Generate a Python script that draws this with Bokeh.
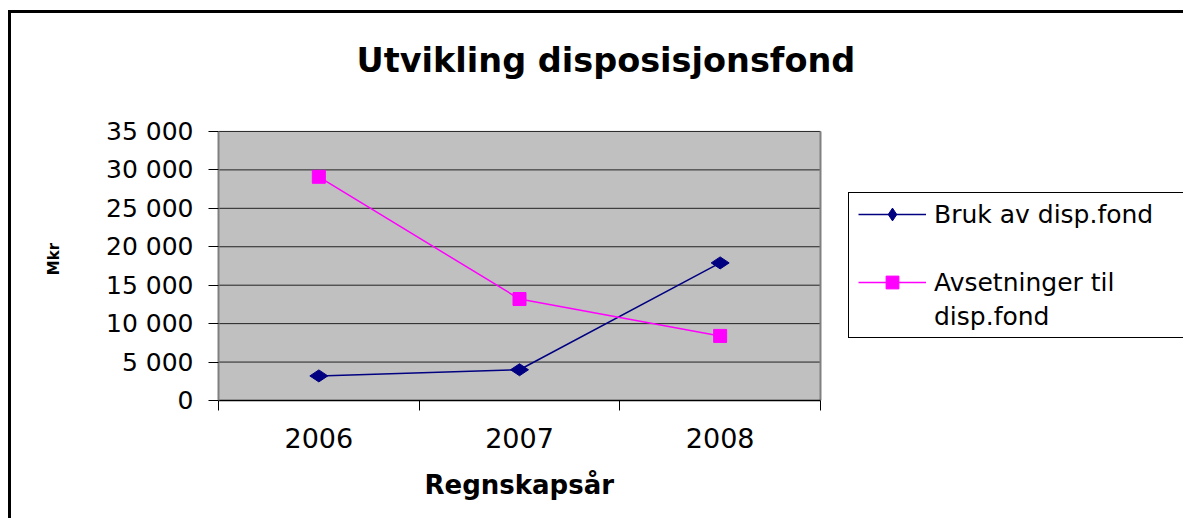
from bokeh.plotting import figure
from bokeh.models import FixedTicker, Range1d, Legend, LegendItem, Title
from bokeh.embed import file_html
from bokeh.resources import INLINE
import math

# ---- data ----
years = ["2006", "2007", "2008"]
bruk = [3200, 4000, 17900]
avsetninger = [29100, 13200, 8400]
y_ticks = [0, 5000, 10000, 15000, 20000, 25000, 30000, 35000]
title_text = "Utvikling disposisjonsfond"
y_label = "Mkr"
x_label = "Regnskapsår"
series_labels = ["Bruk av disp.fond", "Avsetninger til", "disp.fond"]

FONT = "DejaVu Sans"
W, H = 1183, 518
# plot-area box in pixels (layout only)
PL, PR, PT, PB = 218, 820, 130, 400
FT = 116  # frame top (frame extends a little above the plot area)

n = len(years)
x_pos = [i + 0.5 for i in range(n)]
boundaries = list(range(n + 1))
y_min, y_max = y_ticks[0], y_ticks[-1]

# frame extends to the right canvas edge so the legend is not clipped
x_end = n * (W - PL) / (PR - PL)
y_end = y_min + (y_max - y_min) * (PB - FT) / (PB - PT)

p = figure(width=W, height=H, output_backend="svg", toolbar_location=None,
           x_range=Range1d(0, x_end), y_range=Range1d(y_min, y_end),
           min_border_left=PL, min_border_right=0, min_border_top=FT,
           min_border_bottom=H - PB)

# outer chart border (left/top) and legend box, drawn behind the transparent canvas
bar = "linear-gradient(#000, #000)"
p.styles = {
    "background-color": "#ffffff",
    "background-image": ", ".join([bar] * 5),
    "background-repeat": ", ".join(["no-repeat"] * 5),
    "background-position": "8px 10px, 8px 10px, 848px 192px, 848px 192px, 848px 337px",
    "background-size": "3px 520px, 1180px 3px, 1px 146px, 400px 1px, 400px 1px",
}
p.background_fill_alpha = 0
p.border_fill_alpha = 0
p.outline_line_color = None

# plot area
p.quad(left=0, right=n, bottom=y_min, top=y_max, fill_color="#C0C0C0", line_color=None)
p.segment(x0=[0] * (len(y_ticks) - 1), x1=[n] * (len(y_ticks) - 1),
          y0=y_ticks[1:], y1=y_ticks[1:], line_color="#222222", line_width=1)
p.segment(x0=[n], x1=[n], y0=[y_min], y1=[y_max], line_color="#808080", line_width=2)

# title
p.title.text = title_text
p.title.align = "left"
p.title.offset = 138
p.title.standoff = 76
p.title.text_line_height = 1.0
p.title.text_font = FONT
p.title.text_font_size = "33.5px"
p.title.text_font_style = "bold"
p.title.text_color = "black"

# y axis
p.yaxis.bounds = (y_min, y_max)
p.yaxis.ticker = FixedTicker(ticks=y_ticks)
p.yaxis.major_label_overrides = {t: f"{t:,}".replace(",", " ") for t in y_ticks}
p.yaxis.major_tick_out = 10
p.yaxis.major_tick_in = 0
p.yaxis.minor_tick_line_color = None
p.yaxis.major_tick_line_color = "black"
p.yaxis.axis_line_color = "#808080"
p.yaxis.axis_line_width = 2
p.yaxis.major_label_text_font = FONT
p.yaxis.major_label_text_font_size = "25px"
p.yaxis.major_label_text_color = "black"
p.yaxis.major_label_standoff = 15
p.yaxis.axis_label = y_label
p.yaxis.axis_label_text_font = FONT
p.yaxis.axis_label_text_font_size = "15px"
p.yaxis.axis_label_text_font_style = "bold"
p.yaxis.axis_label_text_color = "black"
p.yaxis.axis_label_standoff = 40

# x axis
p.xaxis.bounds = (0, n)
p.xaxis.ticker = FixedTicker(ticks=x_pos, minor_ticks=boundaries)
p.xaxis.major_label_overrides = {x_pos[i]: years[i] for i in range(n)}
p.xaxis.major_tick_out = 0
p.xaxis.major_tick_in = 0
p.xaxis.minor_tick_out = 10
p.xaxis.minor_tick_in = 0
p.xaxis.minor_tick_line_color = "black"
p.xaxis.axis_line_color = "black"
p.xaxis.axis_line_width = 1.5
p.xaxis.major_label_text_font = FONT
p.xaxis.major_label_text_font_size = "27px"
p.xaxis.major_label_text_color = "black"
p.xaxis.major_label_standoff = 17

# x-axis title, centred under the plot area
p.add_layout(Title(text=x_label, align="left", offset=206, standoff=34,
                   text_font=FONT, text_font_size="26px", text_font_style="bold",
                   text_color="black"), "below")

p.xgrid.visible = False
p.ygrid.visible = False

# series
r1 = p.line(x_pos, bruk, line_color="#000080", line_width=1.5)
m1 = p.scatter(x_pos, bruk, marker="diamond", size=18, angle=math.pi / 2,
               fill_color="#000080", line_color="#000080")
r2 = p.line(x_pos, avsetninger, line_color="#FF00FF", line_width=1.5)
m2 = p.scatter(x_pos, avsetninger, marker="square", size=13,
               fill_color="#FF00FF", line_color="#FF00FF")
dummy = p.line(x=[], y=[], line_alpha=0)

legend = Legend(
    items=[LegendItem(label=series_labels[0], renderers=[r1, m1]),
           LegendItem(label=" ", renderers=[dummy]),
           LegendItem(label=series_labels[1], renderers=[r2, m2]),
           LegendItem(label=series_labels[2], renderers=[dummy])],
    location=(858 - 5 - PL, H - 337 - (H - PB)), padding=5, margin=0, spacing=2,
    border_line_alpha=0, background_fill_alpha=0,
    glyph_width=68, glyph_height=32, label_height=32, label_standoff=8,
    label_text_font=FONT, label_text_font_size="25px", label_text_color="black")
p.add_layout(legend)

open("out.html", "w").write(file_html(p, INLINE))
